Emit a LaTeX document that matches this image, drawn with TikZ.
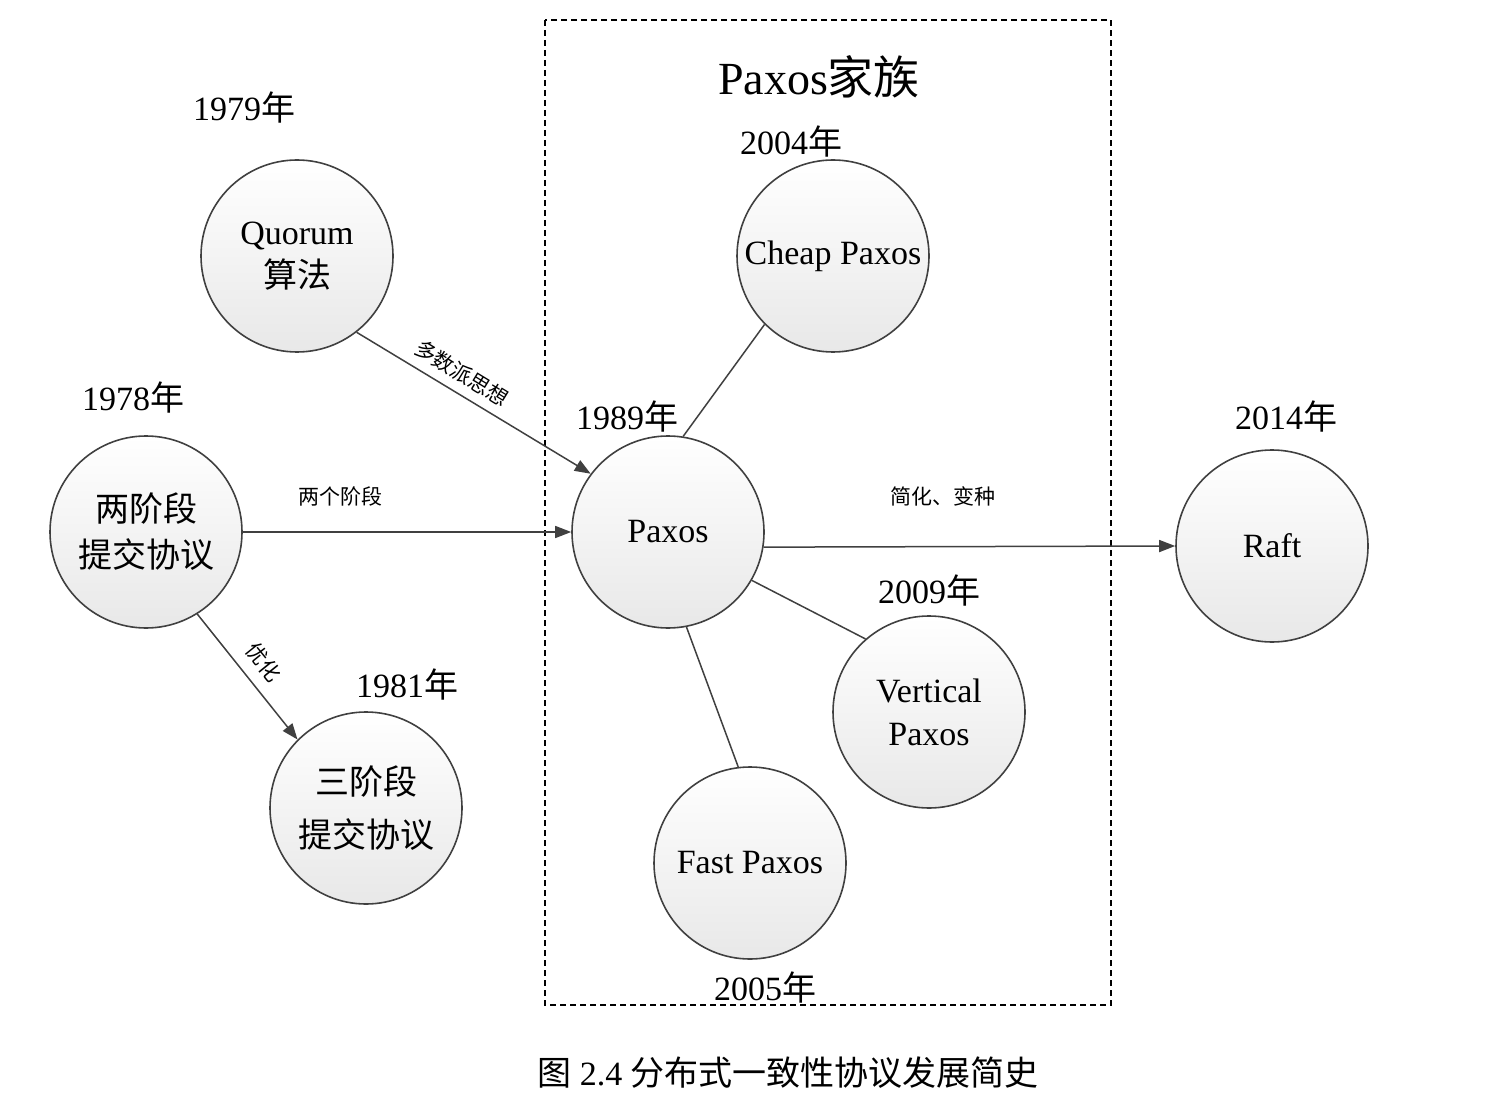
\documentclass[tikz,border=0pt]{standalone}
\usepackage{fontspec}
\setmainfont{Liberation Serif}
\newfontfamily\cjk{Noto Sans CJK SC}
\usetikzlibrary{arrows.meta}
\definecolor{edgec}{HTML}{404040}
\begin{document}
\begin{tikzpicture}[x=0.5pt,y=-0.5pt,
  evt/.style={circle,draw=edgec,line width=0.8pt,minimum size=96pt,inner sep=0pt,
    top color=white,bottom color=black!9,align=center,font=\fontsize{17}{21.5}\selectfont},
  yr/.style={font=\fontsize{17}{20}\selectfont,inner sep=0pt},
  lab/.style={font=\cjk\fontsize{10.5}{12}\selectfont,inner sep=0pt},
  link/.style={draw=edgec,line width=0.75pt},
  arr/.style={link,-{Triangle[length=8pt,width=6pt]}}]
\useasboundingbox (0,0) rectangle (1502,1106);
\draw[line width=0.9pt,dash pattern=on 3pt off 2pt] (545,20) rectangle (1111,1005);

\node[evt] (quorum) at (297,256) {Quorum\\{\cjk 算法}};
\node[evt,font=\cjk\fontsize{17}{23}\selectfont] (two) at (146,532) {两阶段\\提交协议};
\node[evt,font=\cjk\fontsize{17}{26.5}\selectfont] (three) at (366,808) {三阶段\\提交协议};
\node[evt] (paxos) at (668,532) {Paxos};
\node[evt] (cheap) at (833,256) {Cheap Paxos};
\node[evt] (vert) at (929,712) {Vertical\\Paxos};
\node[evt] (fast) at (750,863) {Fast Paxos};
\node[evt] (raft) at (1272,546) {Raft};

\node[yr] (y1979) at (244,108) {1979{\cjk 年}};
\node[yr] (y1978) at (133,398) {1978{\cjk 年}};
\node[yr] (y1981) at (407,685) {1981{\cjk 年}};
\node[yr] (y1989) at (627,417) {1989{\cjk 年}};
\node[yr] (y2004) at (791,142) {2004{\cjk 年}};
\node[yr] (y2009) at (929,591) {2009{\cjk 年}};
\node[yr] (y2005) at (765,988) {2005{\cjk 年}};
\node[yr] (y2014) at (1286,417) {2014{\cjk 年}};
\node[inner sep=0pt,font=\fontsize{23}{26}\selectfont] (family) at (819,77) {Paxos{\cjk 家族}};
\node[inner sep=0pt,font=\fontsize{17}{20}\selectfont] (caption) at (788,1073) {{\cjk 图} 2.4 {\cjk 分布式一致性协议发展简史}};

\draw[arr] (quorum.-52) -- (paxos.143.8);
\draw[arr] (two.east) -- (paxos.west);
\draw[arr] (two.-58.7) -- (three.135.4);
\draw[arr] (paxos.-9) -- (raft.west);
\draw[link] (paxos.81) -- (cheap.225.4);
\draw[link] (paxos.-30.3) -- (vert.131);
\draw[link] (paxos.-79) -- (fast.97.8);

\node[lab,rotate=-31.4] (l1) at (462,373) {多数派思想};
\node[lab] (l2) at (340,496) {两个阶段};
\node[lab,rotate=-51] (l3) at (264,662) {优化};
\node[lab] (l4) at (943,496) {简化、变种};
\end{tikzpicture}
\end{document}
